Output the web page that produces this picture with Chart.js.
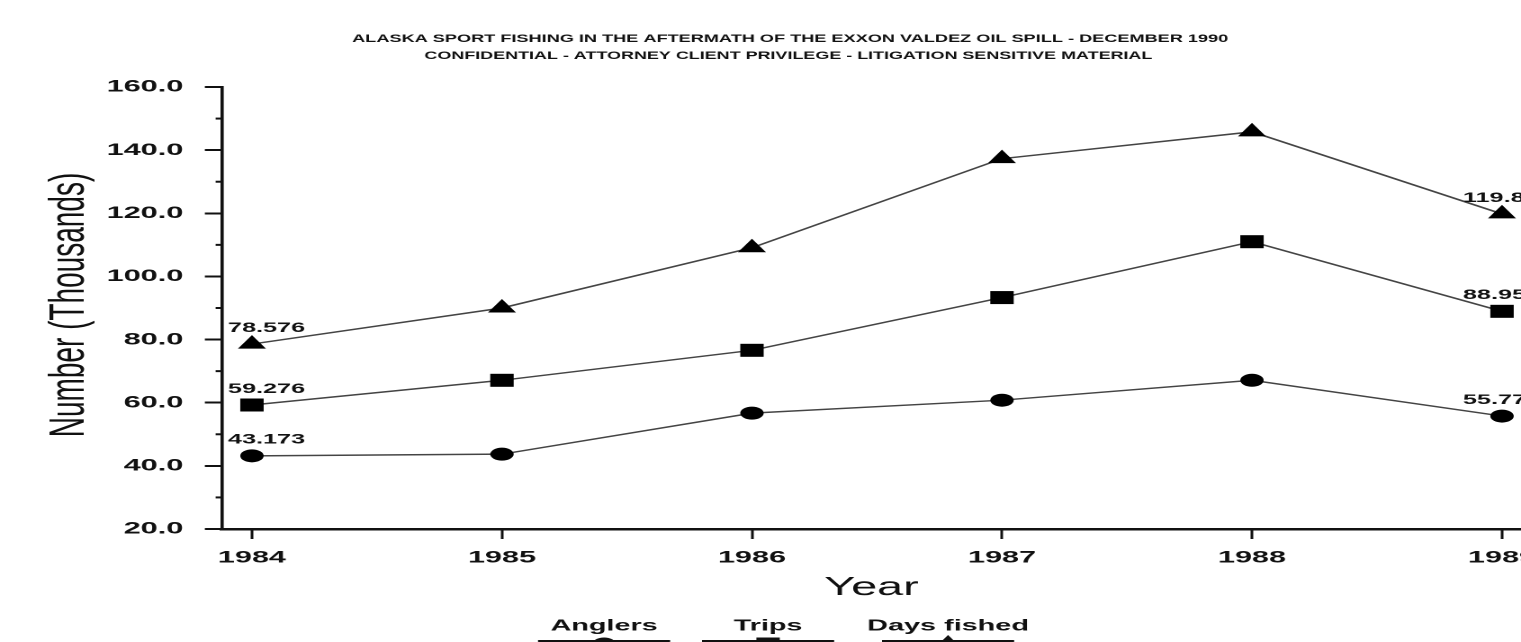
<!DOCTYPE html>
<html>
<head>
<meta charset="utf-8">
<script src="https://cdn.jsdelivr.net/npm/chart.js@4"></script>
<style>
  html, body { margin: 0; padding: 0; background: #fff; overflow: hidden; }
  /* the scanned original is stretched sideways, so the whole chart is drawn narrow and widened */
  #wrap { width: 845px; height: 642px; transform: scaleX(1.8); transform-origin: 0 0; }
</style>
</head>
<body>
<div id="wrap"><canvas id="fishChart"></canvas></div>
<script>
const years = [1984, 1985, 1986, 1987, 1988, 1989];
const yTicks = [20, 40, 60, 80, 100, 120, 140, 160];
const anglers = [43.173, 43.7, 56.7, 60.8, 67.1, 55.77];
const trips = [59.276, 67.1, 76.6, 93.3, 111.0, 88.95];
const daysFished = [78.576, 90.0, 109.1, 137.3, 145.8, 119.8];

const titleLines = [
    'ALASKA SPORT FISHING IN THE AFTERMATH OF THE EXXON VALDEZ OIL SPILL - DECEMBER 1990',
    'CONFIDENTIAL - ATTORNEY CLIENT PRIVILEGE - LITIGATION SENSITIVE MATERIAL'
];

const FONT = "'Liberation Sans', Arial, sans-serif";
const INK = '#111';

function points(values) {
    return years.map((yr, i) => ({ x: yr, y: values[i] }));
}

function drawMarker(ctx, style, x, y) {
    ctx.beginPath();
    if (style === 'circle') {
        ctx.arc(x, y, 6.5, 0, Math.PI * 2);
    } else if (style === 'rect') {
        ctx.rect(x - 6.5, y - 6.5, 13, 13);
    } else {
        ctx.moveTo(x, y - 9);
        ctx.lineTo(x + 7.8, y + 4.5);
        ctx.lineTo(x - 7.8, y + 4.5);
        ctx.closePath();
    }
    ctx.fill();
}

// squeeze a line of text to a given width
function fitText(ctx, text, cx, cy, width) {
    const w = ctx.measureText(text).width;
    ctx.save();
    ctx.translate(cx, cy);
    ctx.scale(width / w, 1);
    ctx.fillText(text, 0, 0);
    ctx.restore();
}

//..titles, legend, year labels, end labels and minor ticks
const extras = {
    id: 'extras',
    afterDraw(chart) {
        const ctx = chart.ctx;
        const area = chart.chartArea;
        const xScale = chart.scales.x;
        const yScale = chart.scales.y;
        ctx.save();
        ctx.fillStyle = INK;
        ctx.strokeStyle = INK;

        // minor ticks on the y axis
        ctx.lineWidth = 2;
        for (let v = 30; v < 160; v += 20) {
            const py = yScale.getPixelForValue(v);
            ctx.beginPath();
            ctx.moveTo(area.left - 3.5, py);
            ctx.lineTo(area.left, py);
            ctx.stroke();
        }

        // year labels (drawn here so the last one may run off the edge)
        ctx.textAlign = 'center';
        ctx.textBaseline = 'middle';
        ctx.font = 'bold 17px ' + FONT;
        years.forEach(yr => {
            ctx.fillText(String(yr), xScale.getPixelForValue(yr), 558);
        });

        // heading
        ctx.font = 'bold 11px ' + FONT;
        fitText(ctx, titleLines[0], 439, 39, 486.7);
        fitText(ctx, titleLines[1], 438, 56, 404.4);

        // axis titles
        ctx.font = '26px ' + FONT;
        ctx.fillText('Year', (area.left + area.right) / 2, 588);
        ctx.save();
        ctx.translate(39, 305);
        ctx.rotate(-Math.PI / 2);
        ctx.font = '28px ' + FONT;
        ctx.fillText('Number (Thousands)', 0, 0);
        ctx.restore();

        // first and last values
        ctx.font = 'bold 14px ' + FONT;
        ctx.textAlign = 'left';
        chart.data.datasets.forEach((ds, i) => {
            const meta = chart.getDatasetMeta(i);
            const first = meta.data[0];
            const last = meta.data[meta.data.length - 1];
            ctx.fillText(String(ds.data[0].y), first.x - 13.3, first.y - 16);
            ctx.fillText(String(ds.data[ds.data.length - 1].y), last.x - 21.7, last.y - 16);
        });

        // legend under the axis title
        const legendX = [335.6, 426.7, 526.7];
        chart.data.datasets.forEach((ds, i) => {
            const cx = legendX[i];
            ctx.font = 'bold 16px ' + FONT;
            ctx.textAlign = 'center';
            ctx.fillText(ds.label, cx, 626);
            ctx.lineWidth = 2;
            ctx.beginPath();
            ctx.moveTo(cx - 36.7, 641);
            ctx.lineTo(cx + 36.7, 641);
            ctx.stroke();
            drawMarker(ctx, ds.pointStyle, cx, 644);
        });
        ctx.restore();
    }
};

function lineSet(label, values, style, radius) {
    return {
        label: label,
        data: points(values),
        borderColor: '#444',
        borderWidth: 1.5,
        pointStyle: style,
        pointRadius: radius,
        pointHoverRadius: radius,
        pointBackgroundColor: '#000',
        pointBorderColor: '#000',
        pointBorderWidth: 0,
        tension: 0,
        clip: false
    };
}

document.addEventListener('DOMContentLoaded', function () {
    new Chart(document.getElementById('fishChart'), {
        type: 'line',
        data: {
            datasets: [
                lineSet('Anglers', anglers, 'circle', 6.5),
                lineSet('Trips', trips, 'rect', 9.2),
                lineSet('Days fished', daysFished, 'triangle', 9)
            ]
        },
        options: {
            responsive: true,
            maintainAspectRatio: false,
            animation: false,
            devicePixelRatio: 2,
            layout: { autoPadding: false, padding: { top: 87, left: 0, right: 0, bottom: 0 } },
            plugins: {
                legend: { display: false },
                title: { display: false },
                tooltip: { enabled: false }
            },
            scales: {
                x: {
                    type: 'linear',
                    min: 1983.88,
                    max: 1989.076,
                    afterBuildTicks: s => { s.ticks = years.map(v => ({ value: v })); },
                    afterFit: s => { s.height = 113; },
                    grid: { drawOnChartArea: false, drawTicks: true, tickLength: 10, tickWidth: 1.5, tickColor: INK },
                    border: { display: true, color: INK, width: 2.5 },
                    ticks: { display: false }
                },
                y: {
                    min: 20,
                    max: 160,
                    afterBuildTicks: s => { s.ticks = yTicks.map(v => ({ value: v })); },
                    afterFit: s => { s.width = 123.3; },
                    grid: { drawOnChartArea: false, drawTicks: true, tickLength: 9.5, tickWidth: 2, tickColor: INK },
                    border: { display: true, color: INK, width: 1.8 },
                    ticks: {
                        padding: 12,
                        color: INK,
                        font: { family: FONT, size: 17, weight: 'bold' },
                        callback: v => Number(v).toFixed(1)
                    }
                }
            }
        },
        plugins: [extras]
    });
});
</script>
</body>
</html>
